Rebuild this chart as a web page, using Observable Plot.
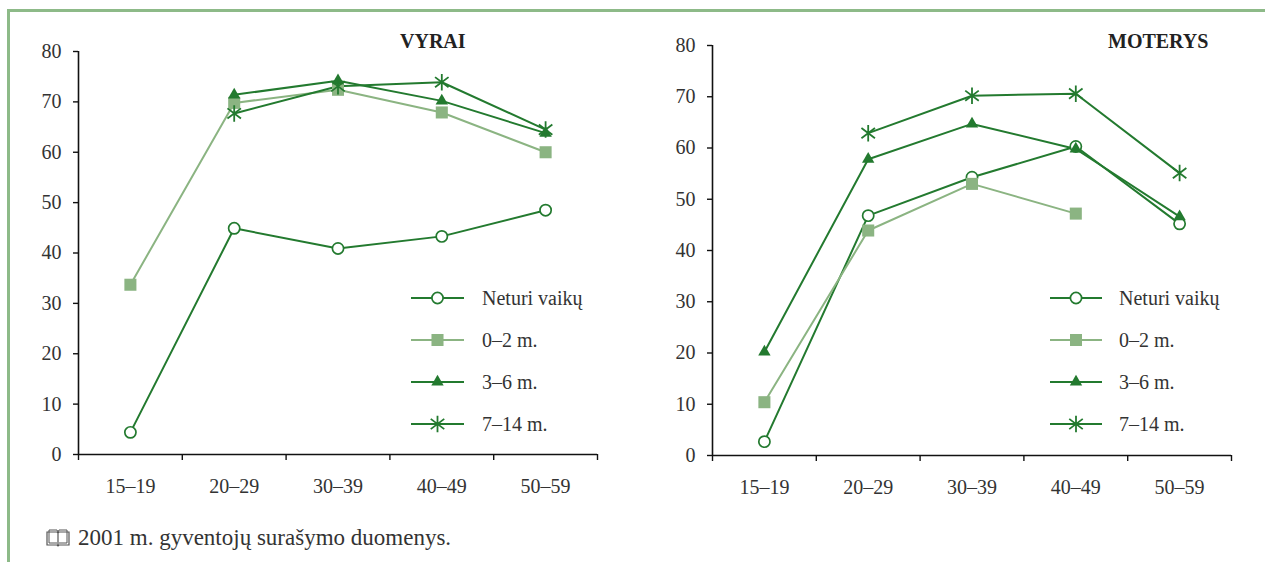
<!DOCTYPE html>
<html>
<head>
<meta charset="utf-8">
<script src="https://cdn.jsdelivr.net/npm/d3@7"></script>
<script src="https://cdn.jsdelivr.net/npm/@observablehq/plot@0.6"></script>
<style>
  html, body { margin: 0; padding: 0; background: #fff; }
  #page { position: relative; width: 1265px; height: 562px; overflow: hidden; background: #fff;
          font-family: "Liberation Serif", "DejaVu Serif", serif; color: #222; }
  .border-top { position: absolute; left: 7px; top: 9px; right: 0; height: 3px; background: #8dba88; }
  .border-left { position: absolute; left: 7px; top: 9px; bottom: 0; width: 3px; background: #8dba88; }
  .panel { position: absolute; top: 20px; }
  .title { position: absolute; font-weight: bold; font-size: 20px; line-height: 1; }
  .legend { position: absolute; }
  .legend .row { position: absolute; left: 0; height: 20px; display: flex; align-items: center; white-space: nowrap; }
  .legend .row span { font-size: 20px; color: #333; margin-left: 17px; }
  .caption { position: absolute; left: 46px; top: 525px; font-size: 23px; color: #333; display: flex; align-items: center; }
  .caption svg { margin-right: 8px; }
</style>
</head>
<body>
<div id="page">
  <div class="border-top"></div>
  <div class="border-left"></div>
</div>
<script>
// ---- data ----
const ageGroups = ["15–19", "20–29", "30–39", "40–49", "50–59"];
const seriesNames = ["Neturi vaikų", "0–2 m.", "3–6 m.", "7–14 m."];
const yTicks = [0, 10, 20, 30, 40, 50, 60, 70, 80];

// VYRAI (men)
const menNoChildren = [4.4, 44.9, 40.9, 43.3, 48.5];
const men0to2      = [33.7, 69.8, 72.4, 67.9, 60.0];
const men3to6      = [null, 71.4, 74.2, 70.2, 63.8];
const men7to14     = [null, 67.7, 73.1, 73.9, 64.5];

// MOTERYS (women)
const womenNoChildren = [2.7, 46.8, 54.3, 60.3, 45.2];
const women0to2      = [10.4, 43.9, 53.0, 47.2, null];
const women3to6      = [20.2, 57.8, 64.7, 59.8, 46.6];
const women7to14     = [null, 62.9, 70.2, 70.6, 55.1];

const captionText = "2001 m. gyventojų surašymo duomenys.";

// ---- styles ----
const dark = "#237a2f";
const light = "#8bb482";
const lineColors = [dark, light, dark, dark];

const asterisk = {
  draw(context, size) {
    const r = Math.sqrt(size) * 0.62;
    const a = r * 0.82, b = r * 0.62;
    context.moveTo(0, -r); context.lineTo(0, r);
    context.moveTo(-a, -b); context.lineTo(a, b);
    context.moveTo(-a, b); context.lineTo(a, -b);
  }
};
const markerSpecs = [
  {symbol: "circle", r: 5.6, fill: "#fff", stroke: dark, strokeWidth: 1.7},
  {symbol: "square", r: 6.8, fill: light, stroke: "none", strokeWidth: 0},
  {symbol: "triangle", r: 4.6, fill: dark, stroke: "none", strokeWidth: 0},
  {symbol: asterisk, r: 7.5, fill: "none", stroke: dark, strokeWidth: 1.8}
];

function toRows(arrays) {
  const rows = [];
  arrays.forEach((vals, s) => vals.forEach((v, i) => {
    if (v != null) rows.push({series: seriesNames[s], s, i, x: i + 0.5, value: v});
  }));
  return rows;
}

function makePanel({rows, left, marginTop, marginBottom}) {
  const marks = [
    Plot.ruleY([0], {stroke: "#111", strokeWidth: 1.6}),
    Plot.ruleX([0], {y1: 0, y2: 80, stroke: "#111", strokeWidth: 1.6}),
    Plot.axisY({ticks: yTicks, tickSize: 5, tickPadding: 12, fontSize: 20, stroke: "#111", strokeWidth: 1.4, label: null}),
    Plot.axisX({ticks: d3.range(0, ageGroups.length + 1), tickSize: 6, tickFormat: () => "", stroke: "#111", strokeWidth: 1.4, label: null}),
    Plot.axisX({ticks: ageGroups.map((d, i) => i + 0.5), tickSize: 0, tickPadding: 24, fontSize: 20, label: null,
                tickFormat: d => ageGroups[Math.floor(d)]})
  ];
  seriesNames.forEach((name, s) => {
    marks.push(Plot.line(rows.filter(d => d.s === s), {x: "x", y: "value", stroke: lineColors[s], strokeWidth: 2}));
  });
  seriesNames.forEach((name, s) => {
    const m = markerSpecs[s];
    marks.push(Plot.dot(rows.filter(d => d.s === s), {x: "x", y: "value", symbol: m.symbol, r: m.r,
      fill: m.fill, stroke: m.stroke, strokeWidth: m.strokeWidth}));
  });
  const svg = Plot.plot({
    width: 600, height: 500,
    marginLeft: 58, marginRight: 23, marginTop, marginBottom,
    x: {type: "linear", domain: [0, ageGroups.length], label: null},
    y: {domain: [0, 80], label: null},
    style: {fontFamily: "'Liberation Serif', serif", fontSize: "20px", color: "#333", background: "transparent", overflow: "visible"},
    marks
  });
  const wrap = document.createElement("div");
  wrap.className = "panel";
  wrap.style.left = left + "px";
  wrap.appendChild(svg);
  return wrap;
}

function makeLegend(left, lineW, textGap) {
  const div = document.createElement("div");
  div.className = "legend";
  div.style.left = left + "px";
  div.style.top = "0px";
  const rowYs = [298, 340, 382, 424];
  seriesNames.forEach((name, s) => {
    const row = document.createElement("div");
    row.className = "row";
    row.style.top = (rowYs[s] - 10) + "px";
    const m = markerSpecs[s];
    const sym = d3.symbol(typeof m.symbol === "string" ? {circle: d3.symbolCircle, square: d3.symbolSquare, triangle: d3.symbolTriangle}[m.symbol] : m.symbol, Math.PI * m.r * m.r)();
    const svg = d3.create("svg").attr("width", lineW).attr("height", 20).style("overflow", "visible");
    svg.append("line").attr("x1", 0).attr("x2", lineW).attr("y1", 10).attr("y2", 10)
      .attr("stroke", lineColors[s]).attr("stroke-width", 2);
    svg.append("path").attr("d", sym).attr("transform", `translate(${lineW / 2},10)`)
      .attr("fill", m.fill).attr("stroke", m.stroke).attr("stroke-width", m.strokeWidth);
    row.appendChild(svg.node());
    const t = document.createElement("span");
    t.textContent = name;
    t.style.marginLeft = textGap + "px";
    row.appendChild(t);
    div.appendChild(row);
  });
  return div;
}

function makeTitle(text, left, top) {
  const d = document.createElement("div");
  d.className = "title";
  d.textContent = text;
  d.style.left = left + "px";
  d.style.top = top + "px";
  return d;
}

const page = document.getElementById("page");
page.appendChild(makePanel({rows: toRows([menNoChildren, men0to2, men3to6, men7to14]), left: 20, marginTop: 31, marginBottom: 66}));
page.appendChild(makePanel({rows: toRows([womenNoChildren, women0to2, women3to6, women7to14]), left: 654, marginTop: 25, marginBottom: 65}));
page.appendChild(makeLegend(411, 53, 18));
page.appendChild(makeLegend(1050, 52, 17));
page.appendChild(makeTitle("VYRAI", 400, 31));
page.appendChild(makeTitle("MOTERYS", 1108, 31));

// caption with book icon
const cap = document.createElement("div");
cap.className = "caption";
const book = d3.create("svg").attr("width", 24).attr("height", 18);
book.append("path").attr("d", "M1,3 L1,16 L11,16 L12,17 L13,16 L23,16 L23,3 L13,3 L12,4 L11,3 Z M12,4 L12,16")
  .attr("fill", "none").attr("stroke", "#555").attr("stroke-width", 1.2);
book.append("path").attr("d", "M3,1 L3,14 L11,14 M21,1 L21,14 L13,14 M3,1 L11,1 L12,3 M21,1 L13,1 L12,3")
  .attr("fill", "none").attr("stroke", "#555").attr("stroke-width", 1);
cap.appendChild(book.node());
const capText = document.createElement("span");
capText.textContent = captionText;
cap.appendChild(capText);
page.appendChild(cap);
</script>
</body>
</html>
